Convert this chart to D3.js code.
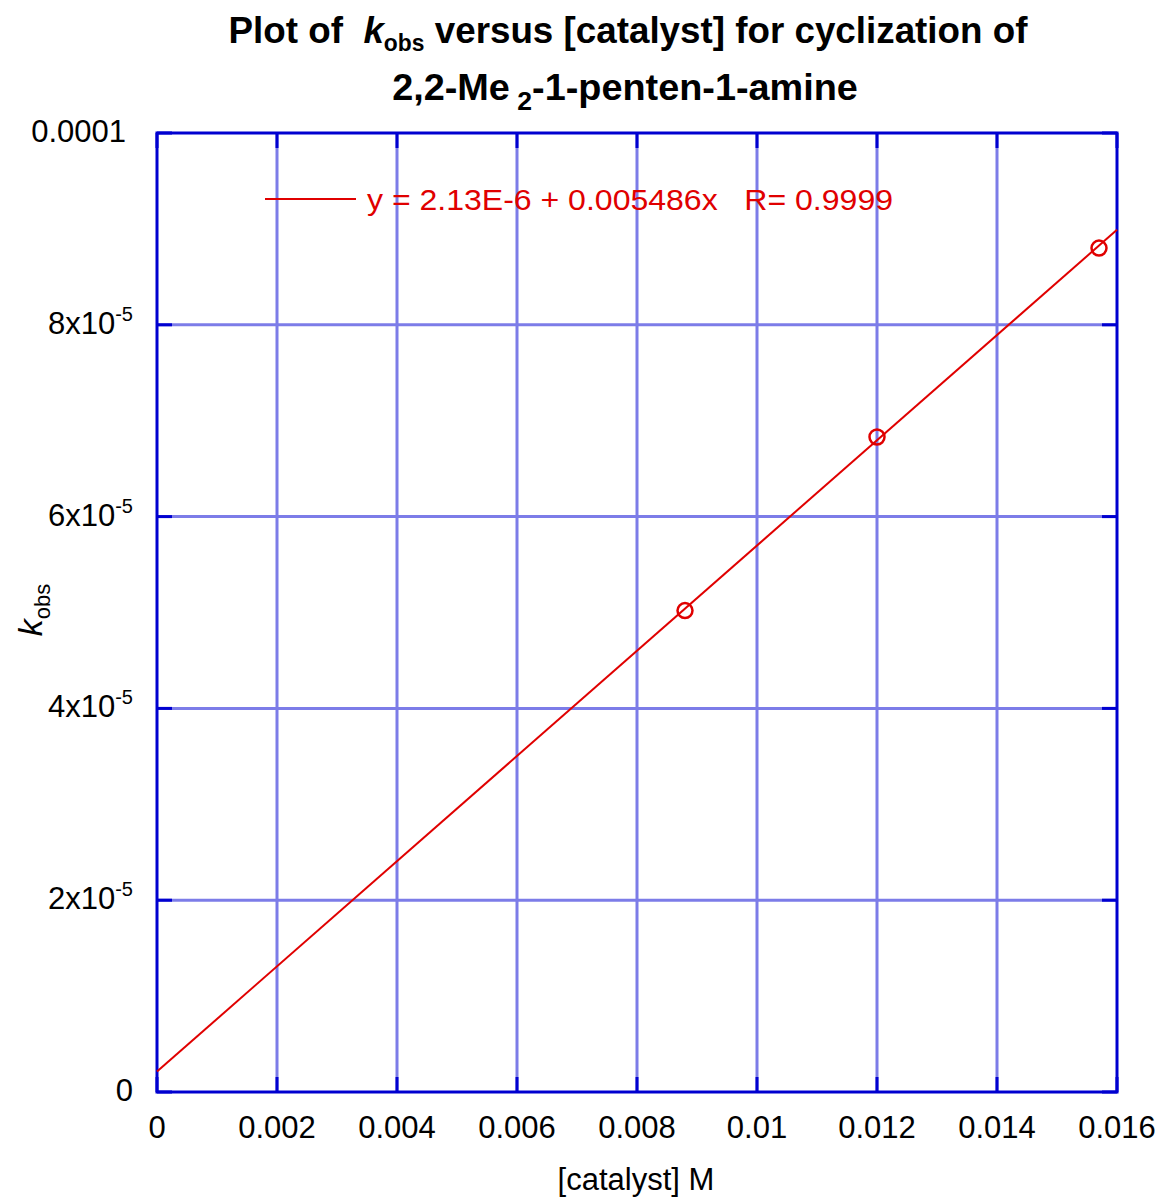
<!DOCTYPE html>
<html>
<head>
	<title>kobs vs catalyst</title>
	<meta charset="utf-8"/>
	<script src="https://cdn.jsdelivr.net/npm/d3@7"></script>
	<style type="text/css">
		body { margin: 0; background: #fff; }
		svg { font-family: Arial, "Liberation Sans", sans-serif; }
	</style>
</head>
<body>
	<svg id="chart" width="1160" height="1198"></svg>
	<script type="text/javascript">

		// data
		var catalyst = [0.0088, 0.0120, 0.0157];
		var kobs = [5.02e-5, 6.83e-5, 8.80e-5];
		var fitIntercept = 2.13e-6;
		var fitSlope = 0.005486;
		var fitRange = [0, 0.016];
		var legendText = "y = 2.13E-6 + 0.005486x   R= 0.9999";

		var xTicks = [0, 0.002, 0.004, 0.006, 0.008, 0.01, 0.012, 0.014, 0.016];
		var xTickLabels = ["0", "0.002", "0.004", "0.006", "0.008", "0.01", "0.012", "0.014", "0.016"];
		var yTicks = [0, 2e-5, 4e-5, 6e-5, 8e-5, 1e-4];
		var yTickBase = ["0", "2x10", "4x10", "6x10", "8x10", "0.0001"];
		var yTickExp = ["", "-5", "-5", "-5", "-5", ""];

		var mLeft = 157, mTop = 133, w = 960, h = 959;
		var red = "#e00000", frame = "#0000d0", grid = "#7c7ce8";

		var svg = d3.select("#chart");
		var x = d3.scaleLinear().domain([0, 0.016]).range([mLeft, mLeft + w]);
		var y = d3.scaleLinear().domain([0, 1e-4]).range([mTop + h, mTop]);

		// grid lines
		svg.append("g").selectAll("line").data(xTicks.slice(1, -1)).enter()
			.append("line")
			.attr("x1", function(d) { return x(d); }).attr("x2", function(d) { return x(d); })
			.attr("y1", mTop).attr("y2", mTop + h)
			.style("stroke", grid).style("stroke-width", 3);
		svg.append("g").selectAll("line").data(yTicks.slice(1, -1)).enter()
			.append("line")
			.attr("y1", function(d) { return y(d); }).attr("y2", function(d) { return y(d); })
			.attr("x1", mLeft).attr("x2", mLeft + w)
			.style("stroke", grid).style("stroke-width", 3);

		// inward ticks on all four sides
		var tl = 15;
		var ticks = svg.append("g").style("stroke", frame).style("stroke-width", 3);
		xTicks.forEach(function(d) {
			ticks.append("line").attr("x1", x(d)).attr("x2", x(d)).attr("y1", mTop + h).attr("y2", mTop + h - tl);
			ticks.append("line").attr("x1", x(d)).attr("x2", x(d)).attr("y1", mTop).attr("y2", mTop + tl);
		});
		yTicks.forEach(function(d) {
			ticks.append("line").attr("y1", y(d)).attr("y2", y(d)).attr("x1", mLeft).attr("x2", mLeft + tl);
			ticks.append("line").attr("y1", y(d)).attr("y2", y(d)).attr("x1", mLeft + w).attr("x2", mLeft + w - tl);
		});

		// frame
		svg.append("rect").attr("x", mLeft).attr("y", mTop).attr("width", w).attr("height", h)
			.style("fill", "none").style("stroke", frame).style("stroke-width", 3);

		// tick labels
		svg.append("g").selectAll("text").data(xTicks).enter()
			.append("text")
			.attr("x", function(d) { return x(d); })
			.attr("y", mTop + h + 46)
			.attr("text-anchor", "middle")
			.style("font-size", "31px")
			.text(function(d, i) { return xTickLabels[i]; });

		var yl = svg.append("g").selectAll("text").data(yTicks).enter()
			.append("text")
			.attr("x", function(d, i) { return i == yTicks.length - 1 ? 126 : 133; })
			.attr("y", function(d) { return y(d) + 9; })
			.attr("text-anchor", "end")
			.style("font-size", "31px");
		yl.append("tspan").text(function(d, i) { return yTickBase[i]; });
		yl.append("tspan").attr("dy", -13).style("font-size", "20px")
			.text(function(d, i) { return yTickExp[i]; });

		// fit line
		svg.append("line")
			.attr("x1", x(fitRange[0])).attr("y1", y(fitIntercept + fitSlope * fitRange[0]))
			.attr("x2", x(fitRange[1])).attr("y2", y(fitIntercept + fitSlope * fitRange[1]))
			.style("stroke", red).style("stroke-width", 2);

		// points
		svg.append("g").selectAll("circle").data(catalyst).enter()
			.append("circle")
			.attr("cx", function(d) { return x(d); })
			.attr("cy", function(d, i) { return y(kobs[i]); })
			.attr("r", 7.5)
			.style("fill", "none").style("stroke", red).style("stroke-width", 2.5);

		// legend
		svg.append("line").attr("x1", 265).attr("x2", 356).attr("y1", 199).attr("y2", 199)
			.style("stroke", red).style("stroke-width", 2);
		svg.append("text").attr("x", 367).attr("y", 210)
			.style("font-size", "29px").style("fill", red).style("white-space", "pre")
			.attr("textLength", 526).attr("lengthAdjust", "spacingAndGlyphs")
			.text(legendText);

		// title, narrowed to the width of the original
		function squeeze(sel, cx, target) {
			var bw = sel.node().getBBox().width;
			sel.attr("transform", "translate(" + cx + ",0) scale(" + (target / bw) + ",1) translate(" + (-cx) + ",0)");
		}
		var t1 = svg.append("text").attr("x", 628).attr("y", 43).attr("text-anchor", "middle")
			.style("font-size", "37px").style("font-weight", "bold").style("white-space", "pre");
		t1.append("tspan").text("Plot of  ");
		t1.append("tspan").style("font-style", "italic").text("k");
		t1.append("tspan").attr("dy", 8).style("font-size", "23px").text("obs");
		t1.append("tspan").attr("dy", -8).text(" versus [catalyst] for cyclization of");
		squeeze(t1, 628, 800);

		var t2 = svg.append("text").attr("x", 625).attr("y", 100).attr("text-anchor", "middle")
			.style("font-size", "37px").style("font-weight", "bold").style("white-space", "pre");
		t2.append("tspan").text("2,2-Me");
		t2.append("tspan").attr("dy", 10).style("font-size", "26px").text(" 2");
		t2.append("tspan").attr("dy", -10).text("-1-penten-1-amine");
		squeeze(t2, 625, 466);

		// axis titles
		svg.append("text").attr("x", 636).attr("y", 1190).attr("text-anchor", "middle")
			.style("font-size", "31px").text("[catalyst] M");

		var yt = svg.append("text").attr("transform", "translate(42,610) rotate(-90)")
			.attr("text-anchor", "middle").style("font-size", "34px");
		yt.append("tspan").style("font-style", "italic").text("k");
		yt.append("tspan").attr("dy", 8).style("font-size", "22px").text("obs");

	</script>
</body>
</html>
